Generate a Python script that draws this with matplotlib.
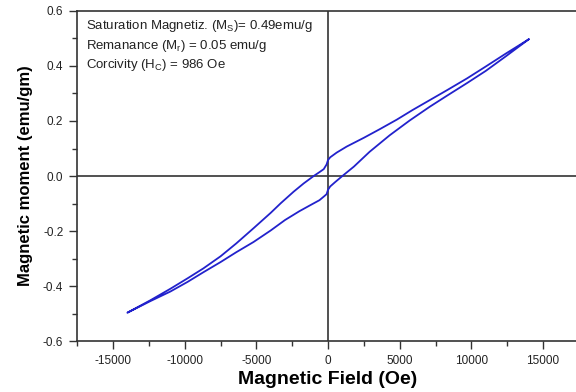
import numpy as np
import matplotlib.pyplot as plt
from matplotlib.ticker import MultipleLocator

plt.rcParams['font.family'] = ['Liberation Sans', 'DejaVu Sans']
plt.rcParams['mathtext.default'] = 'regular'

# descending branch (+Hmax -> -Hmax)
H_down = [14000, 12400, 11000, 9700, 8300, 7100, 5900, 4800, 3600, 2500, 1300, 600, 150, 0,
          -100, -300, -600, -1000, -1700, -2400, -3300, -4000, -5200, -6400, -7500,
          -8700, -9800, -11000, -12400, -14000]
M_down = [0.497, 0.445, 0.398, 0.355, 0.312, 0.276, 0.240, 0.205, 0.170, 0.139, 0.107, 0.085, 0.068, 0.058,
          0.042, 0.025, 0.014, 0.0, -0.027, -0.057, -0.099, -0.134, -0.190, -0.245, -0.292,
          -0.336, -0.372, -0.410, -0.452, -0.497]

# ascending branch (-Hmax -> +Hmax)
H_up = [-14000, -12400, -11000, -9800, -8700, -7500, -6400, -5200, -4000, -3000, -2000, -1200,
        -600, -300, -100, 0, 150, 500, 1000, 1800, 2900, 4300, 5700, 7100, 8300, 9700,
        11000, 12400, 14000]
M_up = [-0.497, -0.455, -0.420, -0.385, -0.350, -0.313, -0.277, -0.240, -0.198, -0.160, -0.128, -0.105,
        -0.088, -0.075, -0.066, -0.050, -0.038, -0.022, 0.0, 0.034, 0.088, 0.148, 0.202, 0.252, 0.292, 0.338,
        0.382, 0.435, 0.497]

info = [r'Saturation Magnetiz. (M$_S$)= 0.49emu/g',
        r'Remanance (M$_r$) = 0.05 emu/g',
        r'Corcivity (H$_C$) = 986 Oe']

fig = plt.figure(figsize=(5.76, 3.92), dpi=100)
ax = fig.add_axes([0.134, 0.130, 0.871, 0.842])

ax.plot(H_down + H_up, M_down + M_up, color='#2222cc', lw=1.3, zorder=3)

# zero lines through the origin
ax.axhline(0, color='#333333', lw=1.2, zorder=2)
ax.axvline(0, color='#333333', lw=1.2, zorder=2)

ax.set_xlim(-17500, 17500)
ax.set_ylim(-0.6, 0.6)
ax.xaxis.set_major_locator(MultipleLocator(5000))
ax.xaxis.set_minor_locator(MultipleLocator(2500))
ax.yaxis.set_major_locator(MultipleLocator(0.2))
ax.yaxis.set_minor_locator(MultipleLocator(0.1))
ax.yaxis.set_major_formatter(plt.FuncFormatter(lambda v, p: '%.1f' % v))
ax.xaxis.set_major_formatter(plt.FuncFormatter(lambda v, p: '%d' % v))

for s in ax.spines.values():
    s.set_color('#333333')
    s.set_linewidth(1.2)
ax.spines['right'].set_visible(False)

ax.tick_params(which='both', direction='out', color='#333333', width=1.0,
               labelsize=8.5, labelcolor='#222222', top=False, right=False, pad=4)
ax.tick_params(which='major', length=6)
ax.tick_params(which='minor', length=3.5)

ax.set_xlabel('Magnetic Field (Oe)', fontsize=14, fontweight='bold', labelpad=3)
ax.set_ylabel('Magnetic moment (emu/gm)', fontsize=12, fontweight='bold', labelpad=7)

for i, t in enumerate(info):
    ax.text(0.017, 0.955 - i * 0.06, t, transform=ax.transAxes, fontsize=9.5,
            color='#222222', va='center', ha='left')

fig.savefig('out.png', dpi=100)
